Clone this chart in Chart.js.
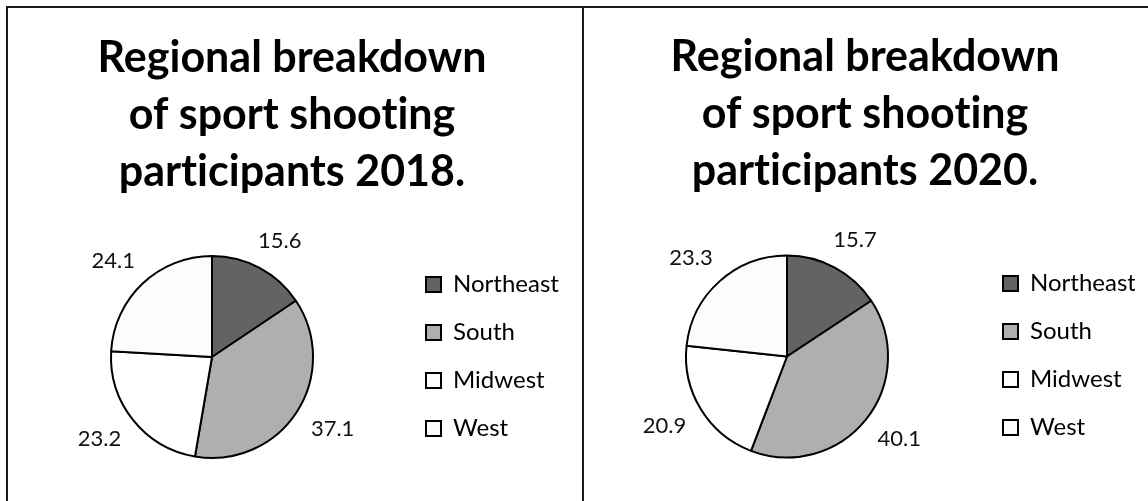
<!DOCTYPE html>
<html>
<head>
<meta charset="utf-8">
<title>Regional breakdown of sport shooting participants</title>
<script src="https://cdn.jsdelivr.net/npm/chart.js@4.4.1/dist/chart.umd.min.js"></script>
<style>
    html, body {
        margin: 0;
        padding: 0;
        width: 1148px;
        height: 501px;
        overflow: hidden;
        background: #ffffff;
    }
    .frame {
        position: absolute;
        left: 6px;
        top: 6px;
        width: 1200px;
        height: 600px;
        border-left: 2px solid #1a1a1a;
        border-top: 2px solid #1a1a1a;
    }
    .divider {
        position: absolute;
        left: 582px;
        top: 6px;
        width: 2px;
        height: 600px;
        background: #1a1a1a;
    }
    canvas {
        position: absolute;
    }
    #chart-2018 { left: 8px; top: 8px; }
    #chart-2020 { left: 584px; top: 7px; }
</style>
</head>
<body>
<div class="frame"></div>
<div class="divider"></div>
<canvas id="chart-2018" width="554" height="493"></canvas>
<canvas id="chart-2020" width="551" height="494"></canvas>

<script>
// Chart data
const regions = ['Northeast', 'South', 'Midwest', 'West'];
const share2018 = [15.6, 37.1, 23.2, 24.1];
const share2020 = [15.7, 40.1, 20.9, 23.3];
const title2018 = ['Regional breakdown', 'of sport shooting', 'participants 2018.'];
const title2020 = ['Regional breakdown', 'of sport shooting', 'participants 2020.'];

// Slice fills (Northeast, South, Midwest, West)
const sliceColors = ['#636363', '#afafaf', '#ffffff', '#fcfcfc'];

/**
 * Turn off font ligatures so "ti" in the titles is drawn as two letters
 */
const plainText = {
    id: 'plainText',
    beforeDraw(chart) {
        chart.ctx.textRendering = 'optimizeSpeed';
    }
};

/**
 * Draw the value labels just outside each slice
 */
const outsideLabels = {
    id: 'outsideLabels',
    afterDatasetsDraw(chart) {
        const ctx = chart.ctx;
        const meta = chart.getDatasetMeta(0);
        const values = chart.data.datasets[0].data;

        ctx.save();
        ctx.font = '22px Lato';
        ctx.fillStyle = '#111111';
        ctx.textAlign = 'center';
        ctx.textBaseline = 'middle';

        meta.data.forEach((arc, i) => {
            const p = arc.getProps(['x', 'y', 'startAngle', 'endAngle', 'outerRadius'], true);
            const mid = (p.startAngle + p.endAngle) / 2;
            const dx = Math.cos(mid);
            const dy = Math.sin(mid);
            const text = values[i].toFixed(1);
            const w = ctx.measureText(text).width;
            const h = 20;
            const dist = p.outerRadius + 21;
            const lx = p.x + dx * dist + dx * w / 2;
            const ly = p.y + dy * dist + dy * h / 2;
            ctx.fillText(text, lx, ly);
        });

        ctx.restore();
    }
};

/**
 * Build one pie chart panel
 */
function makePie(canvasId, values, titleLines, padLeft, legendWidth) {
    const ctx = document.getElementById(canvasId).getContext('2d');

    return new Chart(ctx, {
        type: 'pie',
        data: {
            labels: regions,
            datasets: [{
                data: values,
                backgroundColor: sliceColors,
                borderColor: '#000000',
                borderWidth: 2,
                radius: 101
            }]
        },
        options: {
            responsive: false,
            animation: false,
            layout: {
                padding: { left: padLeft, right: 0, top: 0, bottom: 0 }
            },
            plugins: {
                title: {
                    display: true,
                    text: titleLines,
                    color: '#000000',
                    font: { family: 'Lato', size: 43, weight: 'bold', lineHeight: '57px' },
                    padding: { top: 22, bottom: 12 }
                },
                legend: {
                    position: 'right',
                    align: 'start',
                    maxWidth: legendWidth,
                    title: {
                        display: true,
                        text: ' ',
                        font: { size: 10, lineHeight: 1 },
                        padding: { top: 230.5, bottom: 0 }
                    },
                    labels: {
                        color: '#000000',
                        font: { family: 'Lato', size: 24 },
                        boxWidth: 15,
                        boxHeight: 15,
                        padding: 24
                    }
                },
                tooltip: { enabled: false }
            }
        },
        plugins: [plainText, outsideLabels]
    });
}

makePie('chart-2018', share2018, title2018, 14, 160);
makePie('chart-2020', share2020, title2020, 11, 156);
</script>
</body>
</html>
